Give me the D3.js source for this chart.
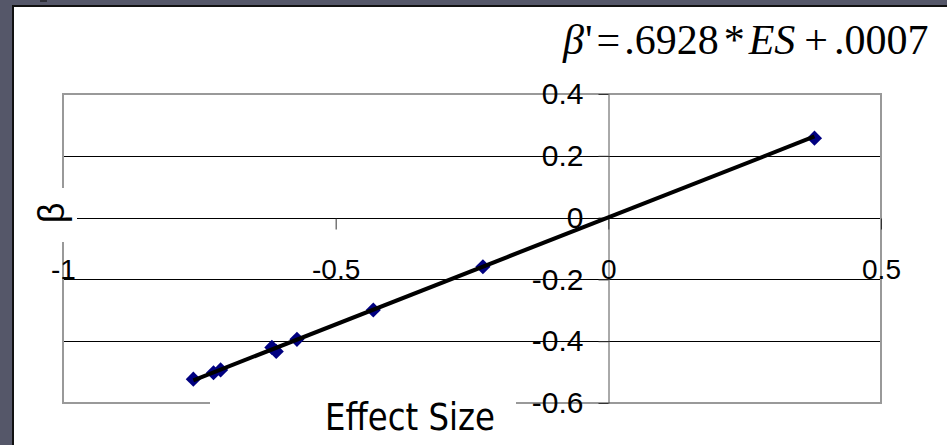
<!DOCTYPE html>
<html>
<head>
<meta charset="utf-8">
<script src="https://cdn.jsdelivr.net/npm/d3@7"></script>
<style>
  html, body { margin: 0; padding: 0; background: #555769; }
  svg { display: block; }
</style>
</head>
<body>
<svg id="chart" width="947" height="445"></svg>
<script>
(function () {
  // ---------- Data ----------
  const effectSize = [-0.761, -0.724, -0.711, -0.617, -0.609, -0.571, -0.431, -0.230, 0.378];
  const beta = [-0.523, -0.502, -0.493, -0.420, -0.433, -0.394, -0.299, -0.159, 0.257];
  const xTicks = [-1, -0.5, 0, 0.5];
  const yTicks = [0.4, 0.2, 0, -0.2, -0.4, -0.6];
  const fitSlope = 0.6928;
  const fitIntercept = 0.0007;

  const width = 947;
  const height = 445;
  const plot = { left: 63, top: 94, right: 881, bottom: 403 };

  const svg = d3.select("#chart");

  // ---------- Slide frame ----------
  svg.append("rect")
    .attr("x", 0).attr("y", 0)
    .attr("width", width).attr("height", height)
    .attr("fill", "#555769");

  svg.append("rect")
    .attr("x", 40).attr("y", 0)
    .attr("width", 7).attr("height", 2)
    .attr("fill", "#2e2f36");

  svg.append("rect")
    .attr("x", 12).attr("y", 5)
    .attr("width", width - 12).attr("height", height - 5)
    .attr("fill", "#111");

  svg.append("rect")
    .attr("x", 14).attr("y", 7)
    .attr("width", width - 14).attr("height", height - 7)
    .attr("fill", "#fff");

  // ---------- Scales ----------
  const x = d3.scaleLinear()
    .domain([-1, 0.5])
    .range([plot.left, plot.right]);

  const y = d3.scaleLinear()
    .domain([-0.6, 0.4])
    .range([plot.bottom, plot.top]);

  // gridlines
  svg.append("g")
    .selectAll("line")
    .data(yTicks.filter(v => v !== 0.4 && v !== -0.6))
    .join("line")
    .attr("x1", plot.left)
    .attr("x2", plot.right)
    .attr("y1", d => Math.round(y(d)) + 0.5)
    .attr("y2", d => Math.round(y(d)) + 0.5)
    .attr("stroke", "#000")
    .attr("stroke-width", 1);

  // plot border
  svg.append("rect")
    .attr("x", plot.left)
    .attr("y", plot.top)
    .attr("width", plot.right - plot.left)
    .attr("height", plot.bottom - plot.top)
    .attr("fill", "none")
    .attr("stroke", "#999")
    .attr("stroke-width", 2);

  // ---------- Axes ----------
  const yAxis = d3.axisLeft(y)
    .tickValues(yTicks)
    .tickSize(10)
    .tickSizeOuter(0)
    .tickPadding(15)
    .tickFormat(d => String(d));

  const yAxisG = svg.append("g")
    .attr("transform", `translate(${Math.round(x(0)) + 0.5},0)`)
    .call(yAxis);

  yAxisG.select(".domain").attr("stroke", "#555");
  yAxisG.selectAll(".tick line").attr("stroke", "#333");
  yAxisG.selectAll("text")
    .attr("fill", "#000")
    .style("font-family", "'Liberation Sans', Arial, sans-serif")
    .style("font-size", "30px");

  const xAxis = d3.axisBottom(x)
    .tickValues(xTicks)
    .tickSize(11)
    .tickSizeOuter(0)
    .tickPadding(30)
    .tickFormat(d => String(d));

  const xAxisG = svg.append("g")
    .attr("transform", `translate(0,${Math.round(y(0)) + 0.5})`)
    .call(xAxis);

  xAxisG.select(".domain").remove();
  xAxisG.selectAll(".tick line").attr("stroke", "#333");
  xAxisG.selectAll("text")
    .attr("fill", "#000")
    .style("font-family", "'Liberation Sans', Arial, sans-serif")
    .style("font-size", "28px");

  // ---------- Points and trendline ----------
  const points = effectSize.map((es, i) => ({ es, b: beta[i] }));

  svg.append("g")
    .selectAll("path")
    .data(points)
    .join("path")
    .attr("d", d3.symbol().type(d3.symbolSquare).size(115))
    .attr("transform", d => `translate(${x(d.es)},${y(d.b)}) rotate(45)`)
    .attr("fill", "#000080");

  const xMin = d3.min(effectSize);
  const xMax = d3.max(effectSize);
  const fitLine = [xMin, xMax].map(v => ({ es: v, b: fitSlope * v + fitIntercept }));

  svg.append("path")
    .datum(fitLine)
    .attr("d", d3.line().x(d => x(d.es)).y(d => y(d.b)))
    .attr("fill", "none")
    .attr("stroke", "#000")
    .attr("stroke-width", 4);

  // ---------- Axis titles (with white boxes) ----------
  svg.append("rect")
    .attr("x", 14).attr("y", 188)
    .attr("width", 63).attr("height", 54)
    .attr("fill", "#fff");

  svg.append("text")
    .attr("transform", "translate(64,213) rotate(-90)")
    .attr("text-anchor", "middle")
    .style("font-family", "'Liberation Sans', Arial, sans-serif")
    .style("font-size", "36px")
    .text("β");

  svg.append("rect")
    .attr("x", 210).attr("y", 395)
    .attr("width", 306).attr("height", 50)
    .attr("fill", "#fff");

  svg.append("text")
    .attr("x", 325)
    .attr("y", 430)
    .attr("textLength", 170)
    .attr("lengthAdjust", "spacingAndGlyphs")
    .style("font-family", "'DejaVu Sans', Verdana, sans-serif")
    .style("font-size", "37px")
    .text("Effect Size");

  // ---------- Regression equation ----------
  const eq = svg.append("text")
    .attr("x", 563)
    .attr("y", 54)
    .style("font-family", "'Liberation Serif', 'Times New Roman', serif")
    .style("font-size", "42px");

  eq.append("tspan").style("font-style", "italic").text("β");
  eq.append("tspan").attr("dx", 1).text("'");
  eq.append("tspan").attr("dx", 4).text("=");
  eq.append("tspan").attr("dx", 4).text(".6928");
  eq.append("tspan").attr("dx", 5).text("*");
  eq.append("tspan").attr("dx", 4).style("font-style", "italic").text("ES");
  eq.append("tspan").attr("dx", 9).text("+");
  eq.append("tspan").attr("dx", 6).text(".0007");
})();
</script>
</body>
</html>
